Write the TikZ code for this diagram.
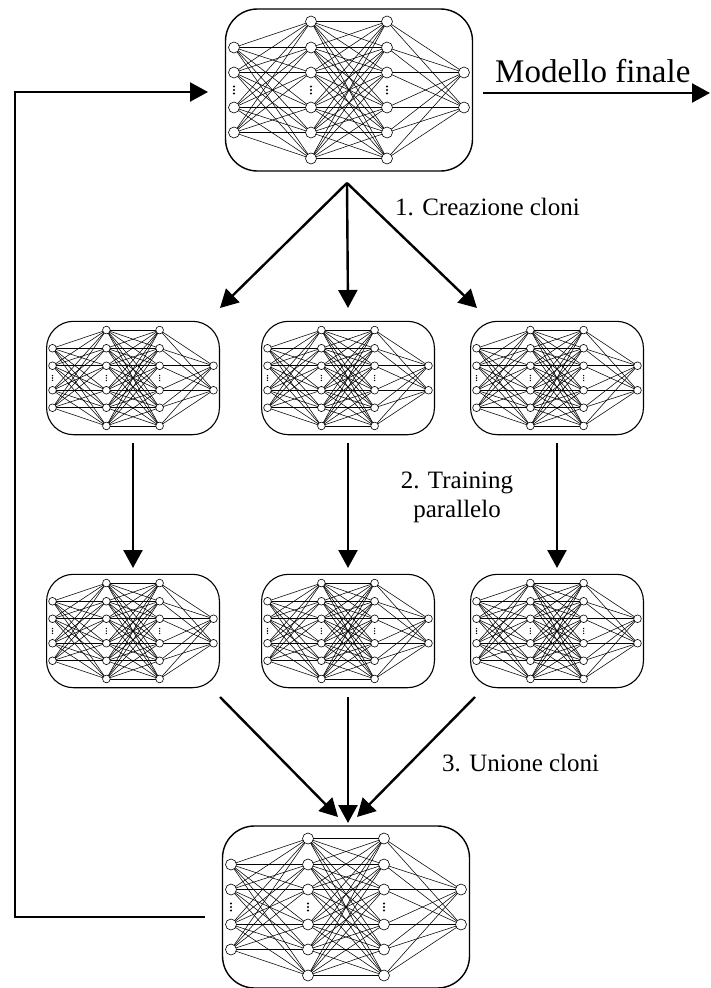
\documentclass[tikz,border=0pt]{standalone}
\usepackage{fontspec}
\setmainfont{Liberation Serif}
\usetikzlibrary{arrows.meta}
\tikzset{
  conn/.style={line width=0.55pt},
  neuron/.style={draw, fill=white, line width=0.6pt},
  arrowtip/.style={-{Triangle[length=18pt,width=19pt]}},
  flow/.style={line width=2.4pt, arrowtip},
  lbl/.style={font=\fontsize{25}{29}\selectfont, inner sep=0pt},
  biglbl/.style={font=\fontsize{33}{38}\selectfont, inner sep=0pt},
}
% #1 name, #2 cx, #3 cy, #4 scale, #5 box line width, #6 corner radius
\newcommand{\NeuralNet}[6]{%
  \pgfmathsetmacro{\nnbw}{247*#4}%
  \pgfmathsetmacro{\nnbh}{162*#4}%
  \node[draw, line width=#5, rounded corners=#6pt, minimum width=\nnbw pt,
        minimum height=\nnbh pt, inner sep=0pt] (#1) at (#2,#3) {};
  \begin{scope}[shift={(#2,#3)}, scale=#4]
    \foreach \a in {-42.5,-17.5,17.5,42.5}
      \foreach \b in {-68.5,-42.5,-17.5,17.5,42.5,68.5}
        \draw[conn] (-115,\a) -- (-38,\b);
    \foreach \a in {-68.5,-42.5,-17.5,17.5,42.5,68.5}
      \foreach \b in {-68.5,-42.5,-17.5,17.5,42.5,68.5}
        \draw[conn] (-38,\a) -- (38,\b);
    \foreach \a in {-68.5,-42.5,-17.5,17.5,42.5,68.5}
      \foreach \b in {-17.5,17.5}
        \draw[conn] (38,\a) -- (115,\b);
    \foreach \a in {-42.5,-17.5,17.5,42.5}
      \draw[neuron] (-115,\a) circle (5.5);
    \foreach \a in {-68.5,-42.5,-17.5,17.5,42.5,68.5} {
      \draw[neuron] (-38,\a) circle (5.5);
      \draw[neuron] (38,\a) circle (5.5);
    }
    \foreach \a in {-17.5,17.5}
      \draw[neuron] (115,\a) circle (5.5);
    \foreach \x in {-115,-38,38}
      \foreach \y in {-3.5,0,3.5}
        \fill (\x,\y) circle (1.1);
  \end{scope}
}
\begin{document}
\begin{tikzpicture}[x=1pt, y=-1pt]
  \useasboundingbox (0,0) rectangle (710,988);

  \NeuralNet{top}{349}{90}{1}{1.4pt}{32}
  \NeuralNet{ca}{133}{378}{0.7}{1.1pt}{27}
  \NeuralNet{cb}{348}{378}{0.7}{1.1pt}{27}
  \NeuralNet{cc}{557}{378}{0.7}{1.1pt}{27}
  \NeuralNet{ta}{133}{631}{0.7}{1.1pt}{27}
  \NeuralNet{tb}{348}{631}{0.7}{1.1pt}{27}
  \NeuralNet{tc}{557}{631}{0.7}{1.1pt}{27}
  \NeuralNet{bot}{346}{907}{1}{1.4pt}{32}

  % coordinates
  \coordinate (s0) at (347,183);
  \coordinate (e1) at (220,308);
  \coordinate (e2) at (348,308);
  \coordinate (e3) at (477,308);
  \coordinate (a1) at (133,443);  \coordinate (b1) at (133,568);
  \coordinate (a2) at (348,443);  \coordinate (b2) at (348,568);
  \coordinate (a3) at (557,443);  \coordinate (b3) at (557,568);
  \coordinate (u1) at (220,697);  \coordinate (v1) at (338,817);
  \coordinate (u2) at (348,697);  \coordinate (v2) at (348,823);
  \coordinate (u3) at (475,697);  \coordinate (v3) at (357,817);
  \coordinate (fb0) at (205,917);
  \coordinate (fb1) at (15,917);
  \coordinate (fb2) at (15,92);
  \coordinate (fb3) at (208,92);
  \coordinate (m0) at (483,93);
  \coordinate (m1) at (710,93);

  % step 1
  \draw[flow] (s0) -- (e1);
  \draw[flow] (s0) -- (e2);
  \draw[flow] (s0) -- (e3);
  % step 2
  \draw[flow] (a1) -- (b1);
  \draw[flow] (a2) -- (b2);
  \draw[flow] (a3) -- (b3);
  % step 3
  \draw[flow] (u1) -- (v1);
  \draw[flow] (u2) -- (v2);
  \draw[flow] (u3) -- (v3);
  % feedback
  \draw[flow] (fb0) -- (fb1) -- (fb2) -- (fb3);
  % output
  \draw[flow] (m0) -- (m1);

  \node[biglbl, anchor=base west] (lm) at (495,82) {Modello finale};
  \node[lbl, anchor=base west] (l1) at (395,215) {1. Creazione cloni};
  \node[lbl, align=center, anchor=north] (l2) at (457,472) {2. Training\\parallelo};
  \node[lbl, anchor=base west] (l3) at (442,771) {3. Unione cloni};
\end{tikzpicture}
\end{document}
